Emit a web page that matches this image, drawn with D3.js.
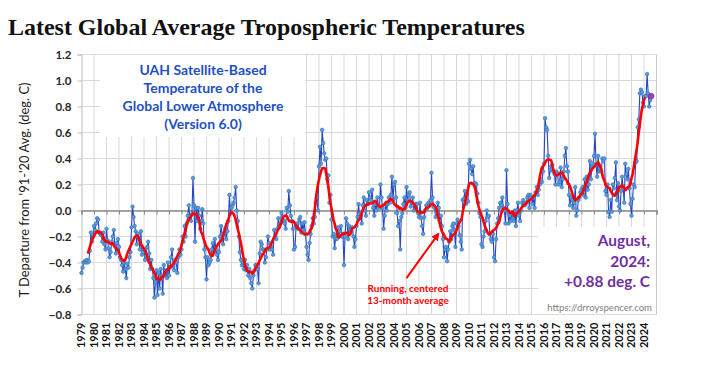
<!DOCTYPE html>
<html><head><meta charset="utf-8">
<script src="https://cdn.jsdelivr.net/npm/d3@7"></script>
<style>html,body{margin:0;padding:0;background:#fff;} svg{display:block;}</style>
</head><body>
<svg id="chart" width="702" height="372"></svg>
<script>
// ---------------- DATA ----------------
const startYear = 1979;
const yearLabels = d3.range(1979, 2025).map(String);
const yTickValues = [-0.8, -0.6, -0.4, -0.2, 0.0, 0.2, 0.4, 0.6, 0.8, 1.0, 1.2];
// UAH v6.0 global lower-troposphere monthly anomalies (deg C, 1991-2020 base), Jan 1979 - Aug 2024
const anomalies = [
 -0.48,-0.44,-0.40,-0.39,-0.40,-0.38,-0.40,-0.39,-0.31,-0.17,-0.24,-0.20, // 1979
 -0.12,-0.15,-0.10,-0.06,-0.07,-0.17,-0.18,-0.19,-0.24,-0.17,-0.26,-0.30, // 1980
 -0.14,-0.23,-0.29,-0.36,-0.32,-0.24,-0.20,-0.15,-0.27,-0.33,-0.25,-0.22, // 1981
 -0.28,-0.36,-0.38,-0.42,-0.47,-0.40,-0.45,-0.52,-0.41,-0.44,-0.36,-0.32, // 1982
 -0.13, 0.03,-0.05,-0.12,-0.16,-0.26,-0.18,-0.21,-0.30,-0.16,-0.34,-0.32, // 1983
 -0.30,-0.38,-0.35,-0.28,-0.24,-0.33,-0.45,-0.38,-0.45,-0.52,-0.67,-0.55, // 1984
 -0.46,-0.65,-0.48,-0.60,-0.45,-0.50,-0.64,-0.42,-0.50,-0.46,-0.52,-0.40, // 1985
 -0.50,-0.44,-0.36,-0.30,-0.43,-0.46,-0.38,-0.40,-0.48,-0.36,-0.30,-0.34, // 1986
 -0.30,-0.20,-0.24,-0.12,-0.20,-0.10,-0.04, 0.04,-0.05,-0.08,-0.03, 0.25, // 1987
  0.04,-0.24, 0.02,-0.08, 0.02,-0.04,-0.14,-0.08, 0.01,-0.10,-0.30,-0.36, // 1988
 -0.53,-0.36,-0.42,-0.40,-0.38,-0.30,-0.25,-0.32,-0.22,-0.30,-0.34,-0.38, // 1989
 -0.32,-0.20,-0.12,-0.18,-0.26,-0.18,-0.14,-0.22,-0.16,-0.08, 0.12,-0.02, // 1990
  0.02, 0.04, 0.06, 0.10, 0.18, 0.00,-0.08,-0.20,-0.32,-0.38,-0.42,-0.40, // 1991
 -0.45,-0.38,-0.46,-0.42,-0.50,-0.45,-0.52,-0.56,-0.60,-0.50,-0.46,-0.42, // 1992
 -0.42,-0.45,-0.56,-0.33,-0.24,-0.26,-0.30,-0.30,-0.40,-0.36,-0.30,-0.20, // 1993
 -0.25,-0.30,-0.28,-0.30,-0.34,-0.15,-0.20,-0.22,-0.14,-0.06,-0.12,-0.10, // 1994
 -0.02,-0.05,-0.08,-0.10,-0.14, 0.02,-0.01, 0.15, 0.04,-0.04,-0.08,-0.14, // 1995
 -0.30,-0.28,-0.12,-0.10,-0.14,-0.07,-0.05,-0.17,-0.10,-0.15,-0.09,-0.18, // 1996
 -0.28,-0.34,-0.38,-0.25,-0.18,-0.12,-0.06,-0.10,-0.05, 0.06, 0.10, 0.00, // 1997
  0.34, 0.49, 0.36, 0.62, 0.52, 0.44, 0.39, 0.40, 0.24, 0.27, 0.06, 0.12, // 1998
 -0.07,-0.20,-0.18,-0.29,-0.20,-0.22,-0.13,-0.20,-0.16,-0.12,-0.20,-0.18, // 1999
 -0.42,-0.20,-0.06,-0.10,-0.22,-0.12,-0.15,-0.16,-0.13,-0.20,-0.28,-0.22, // 2000
 -0.12,-0.05, 0.05,-0.05,-0.02,-0.10, 0.04, 0.10, 0.00,-0.04, 0.08, 0.05, // 2001
  0.14, 0.10, 0.08, 0.16, 0.02,-0.04, 0.05, 0.00, 0.10, 0.04, 0.02, 0.20, // 2002
  0.10, 0.02,-0.14,-0.04, 0.05, 0.00, 0.05, 0.10, 0.06, 0.12, 0.26, 0.08, // 2003
  0.20, 0.22, 0.10,-0.02,-0.12,-0.08,-0.30,-0.05,-0.02, 0.05, 0.10, 0.02, // 2004
  0.18, 0.08, 0.12, 0.14, 0.03, 0.06, 0.10, 0.00, 0.04, 0.05, 0.05,-0.02, // 2005
 -0.05, 0.06,-0.06,-0.12,-0.18,-0.05, 0.00, 0.04, 0.02, 0.06, 0.04, 0.08, // 2006
  0.29, 0.10, 0.03, 0.02,-0.05,-0.02, 0.06, 0.02,-0.08,-0.04,-0.12,-0.22, // 2007
 -0.36,-0.30,-0.28,-0.39,-0.30,-0.24,-0.16,-0.22,-0.12,-0.10,-0.15,-0.28, // 2008
 -0.10,-0.07,-0.12,-0.19,-0.24,-0.30, 0.08, 0.09, 0.15, 0.05, 0.07, 0.07, // 2009
  0.36, 0.39, 0.32, 0.28, 0.34, 0.21, 0.21, 0.20, 0.13, 0.06,-0.02,-0.05, // 2010
 -0.26,-0.28,-0.20,-0.16,-0.08, 0.00,-0.05,-0.04,-0.18,-0.22,-0.24,-0.18, // 2011
 -0.36,-0.39,-0.22,-0.10,-0.06, 0.02, 0.06, 0.04, 0.10, 0.02, 0.00,-0.10, // 2012
  0.31, 0.05,-0.10,-0.04,-0.08,-0.02,-0.06,-0.08, 0.00,-0.12, 0.00, 0.06, // 2013
 -0.04,-0.08, 0.00, 0.06, 0.08, 0.05, 0.04, 0.06, 0.10, 0.12, 0.02, 0.12, // 2014
  0.10, 0.05, 0.10, 0.02, 0.14, 0.18, 0.12, 0.16, 0.20, 0.24, 0.22, 0.30, // 2015
  0.36, 0.71, 0.64, 0.62, 0.42, 0.25, 0.31, 0.34, 0.35, 0.30, 0.28, 0.20, // 2016
  0.30, 0.28, 0.20, 0.22, 0.33, 0.18, 0.24, 0.30, 0.42, 0.48, 0.34, 0.30, // 2017
  0.12, 0.04, 0.10, 0.08, 0.02, 0.06, 0.18,-0.04, 0.00, 0.08, 0.10, 0.14, // 2018
  0.16, 0.18, 0.12, 0.24, 0.10, 0.26, 0.16, 0.20, 0.38, 0.24, 0.34, 0.36, // 2019
  0.42, 0.59, 0.35, 0.26, 0.42, 0.30, 0.31, 0.30, 0.40, 0.38, 0.40, 0.15, // 2020
  0.12, 0.20,-0.01,-0.05, 0.08,-0.01, 0.20, 0.17, 0.25, 0.37, 0.08, 0.21, // 2021
  0.03, 0.00, 0.15, 0.26, 0.17, 0.06, 0.36, 0.28, 0.24, 0.32, 0.17, 0.05, // 2022
 -0.04, 0.09, 0.20, 0.18, 0.37, 0.38, 0.64, 0.70, 0.90, 0.93, 0.91, 0.83, // 2023
  0.80, 0.88, 0.88, 1.05, 0.90, 0.80, 0.85, 0.88                          // 2024
];
const runningWindow = 13;
const titleText = "Latest Global Average Tropospheric Temperatures";
const boxLines = ["UAH Satellite-Based", "Temperature of the", "Global Lower Atmosphere", "(Version 6.0)"];
const latestLines = ["August,", "2024:", "+0.88 deg. C"];
const sourceText = "https://drroyspencer.com";
const runningLines = ["Running, centered", "13-month average"];
const yAxisTitle = "T Departure from '91-'20 Avg. (deg. C)";

// ---------------- LAYOUT ----------------
const plot = {left: 81.5, right: 656.5, top: 54.5, bottom: 314.5};
const svg = d3.select("#chart");
svg.append("rect").attr("width", 702).attr("height", 372).attr("fill", "#fff");

const x = d3.scaleLinear().domain([1979, 2025]).range([plot.left, plot.right]);
const y = d3.scaleLinear().domain([-0.8, 1.2]).range([plot.bottom, plot.top]);

function fit(sel, target) {
  const w = sel.node().getComputedTextLength();
  const fs = parseFloat(sel.attr("font-size"));
  const nf = fs * target / w;
  sel.attr("font-size", nf);
  return nf;
}

// title
const title = svg.append("text").attr("x", 8).attr("y", 35)
  .attr("font-family", "'Liberation Serif', serif").attr("font-weight", "bold")
  .attr("font-size", 20).attr("fill", "#111").text(titleText);
fit(title, 517);

// grid
const grid = svg.append("g");
grid.selectAll("line.h").data(yTickValues).join("line").attr("class", "h")
  .attr("x1", plot.left).attr("x2", plot.right)
  .attr("y1", d => y(d)).attr("y2", d => y(d))
  .attr("stroke", "#d9d9d9").attr("stroke-width", 1);
grid.selectAll("line.v").data(d3.range(1980, 2025)).join("line").attr("class", "v")
  .attr("x1", d => x(d)).attr("x2", d => x(d))
  .attr("y1", plot.top).attr("y2", plot.bottom)
  .attr("stroke", "#d9d9d9").attr("stroke-width", 1);
// right border
svg.append("line").attr("x1", plot.right).attr("x2", plot.right)
  .attr("y1", plot.top).attr("y2", plot.bottom).attr("stroke", "#c8c8c8");

// white text boxes
svg.append("rect").attr("x", 100).attr("y", 55).attr("width", 205).attr("height", 82).attr("fill", "#fff");
svg.append("rect").attr("x", 538).attr("y", 227).attr("width", 118).attr("height", 87).attr("fill", "#fff");

// y axis
const yAxis = svg.append("g").attr("transform", `translate(${plot.left},0)`)
  .call(d3.axisLeft(y).tickValues(yTickValues).tickFormat(d3.format(".1f")).tickSize(4).tickPadding(6));
yAxis.select(".domain").attr("stroke", "#bfbfbf");
yAxis.selectAll(".tick line").attr("stroke", "#bfbfbf");
yAxis.selectAll(".tick text").attr("font-family", "Lato, 'Liberation Sans', sans-serif")
  .attr("font-weight", "bold").attr("font-size", 11.5).attr("fill", "#262626");

// x axis along zero with ticks, labels at the bottom
const zeroAxis = svg.append("g").attr("transform", `translate(0,${y(0)})`)
  .call(d3.axisBottom(x).tickValues(d3.range(1979, 2026)).tickFormat("").tickSize(4));
zeroAxis.select(".domain").attr("stroke", "#8c8c8c").attr("stroke-width", 1.5);
zeroAxis.selectAll(".tick line").attr("stroke", "#8c8c8c");

svg.append("g").selectAll("text").data(yearLabels).join("text")
  .attr("transform", d => `translate(${x(+d)},${plot.bottom + 8}) rotate(-90)`)
  .attr("text-anchor", "end").attr("dy", "0.36em")
  .attr("font-family", "Lato, 'Liberation Sans', sans-serif").attr("font-weight", "bold")
  .attr("font-size", 11).attr("fill", "#111").text(d => d);

// y axis title
const yt = svg.append("text").attr("transform", `translate(29,190) rotate(-90)`)
  .attr("text-anchor", "middle").attr("font-family", "Lato, 'Liberation Sans', sans-serif")
  .attr("font-size", 13).attr("fill", "#1a1a1a").text(yAxisTitle);
fit(yt, 215);

// series
const pts = anomalies.map((v, i) => ({t: startYear + i / 12, v}));
const half = (runningWindow - 1) / 2;
const running = [];
for (let i = half; i < anomalies.length - half; i++) {
  running.push({t: startYear + i / 12, v: d3.mean(anomalies.slice(i - half, i + half + 1))});
}
const line = d3.line().x(d => x(d.t)).y(d => y(d.v));
svg.append("path").datum(pts).attr("d", line).attr("fill", "none")
  .attr("stroke", "#2546c2").attr("stroke-width", 1.1);
svg.append("g").selectAll("circle").data(pts.slice(0, -1)).join("circle")
  .attr("cx", d => x(d.t)).attr("cy", d => y(d.v)).attr("r", 1.8)
  .attr("fill", "#5b9bd5").attr("stroke", "#2e6fbf").attr("stroke-width", 0.6);
svg.append("path").datum(running).attr("d", line).attr("fill", "none")
  .attr("stroke", "#ff0000").attr("stroke-width", 2.6).attr("stroke-linejoin", "round");
const last = pts[pts.length - 1];
svg.append("circle").attr("cx", x(last.t)).attr("cy", y(last.v)).attr("r", 2.8)
  .attr("fill", "#a040b0").attr("stroke", "#7a2a90").attr("stroke-width", 0.6);

// box texts
const boxG = svg.append("g").attr("font-family", "Lato, 'Liberation Sans', sans-serif")
  .attr("font-weight", "bold").attr("fill", "#1f4fc4").attr("text-anchor", "middle");
const boxT = boxG.selectAll("text").data(boxLines).join("text")
  .attr("x", 203).attr("y", (d, i) => 75 + i * 18).attr("font-size", 14).text(d => d);
const bf = fit(d3.select(boxT.nodes()[2]), 161);
boxT.attr("font-size", bf);

const latG = svg.append("g").attr("font-family", "Lato, 'Liberation Sans', sans-serif")
  .attr("font-weight", "bold").attr("fill", "#7030a0").attr("text-anchor", "end");
const latT = latG.selectAll("text").data(latestLines).join("text")
  .attr("x", 650).attr("y", (d, i) => 246 + i * 20.5).attr("font-size", 16).text(d => d);
const lf = fit(d3.select(latT.nodes()[2]), 86);
latT.attr("font-size", lf);

const src = svg.append("text").attr("x", 652).attr("y", 310.5).attr("text-anchor", "end")
  .attr("font-family", "Lato, 'Liberation Sans', sans-serif").attr("font-size", 10)
  .attr("fill", "#7f7f7f").text(sourceText);
fit(src, 105);

// running-average annotation
const runG = svg.append("g").attr("font-family", "Lato, 'Liberation Sans', sans-serif")
  .attr("font-weight", "bold").attr("fill", "#ff0000").attr("text-anchor", "middle");
const runT = runG.selectAll("text").data(runningLines).join("text")
  .attr("x", 408).attr("y", (d, i) => 292 + i * 11.8).attr("font-size", 11).text(d => d);
const rf = fit(d3.select(runT.nodes()[0]), 81);
runT.attr("font-size", rf);

svg.append("defs").append("marker").attr("id", "arrow").attr("viewBox", "0 0 10 10")
  .attr("refX", 8).attr("refY", 5).attr("markerWidth", 4).attr("markerHeight", 4)
  .attr("orient", "auto").append("path").attr("d", "M0,0L10,5L0,10z").attr("fill", "#ff0000");
svg.append("line")
  .attr("x1", x(2005.0)).attr("y1", y(-0.52))
  .attr("x2", x(2007.55)).attr("y2", y(-0.18))
  .attr("stroke", "#ff0000").attr("stroke-width", 2).attr("marker-end", "url(#arrow)");
</script>
</body></html>
